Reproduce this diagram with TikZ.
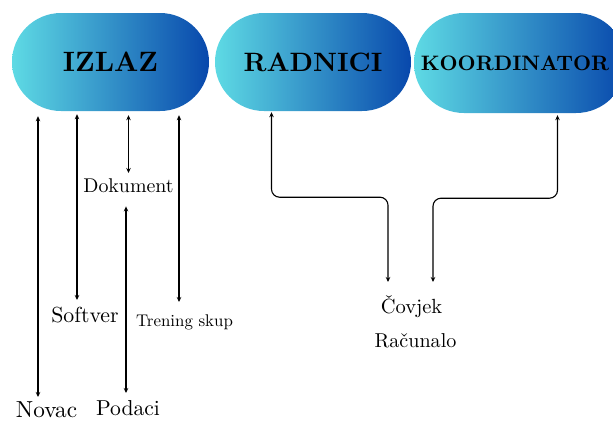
\documentclass[tikz,border=0pt]{standalone}
\usepackage{fontspec}
\setmainfont{lmroman10-regular.otf}[BoldFont=lmroman10-bold.otf]
\usetikzlibrary{shapes.misc}
\usetikzlibrary{arrows.meta}
\definecolor{boxleft}{RGB}{94,218,228}
\definecolor{boxright}{RGB}{8,72,172}
\tikzstyle{stadium}=[rounded rectangle, inner sep=0pt, minimum height=98pt, left color=boxleft, right color=boxright]
\tikzstyle{word}=[inner sep=0pt, anchor=base]
\tikzstyle{link}=[{Stealth[length=5pt,width=4.5pt]}-{Stealth[length=5pt,width=4.5pt]}, line width=1.1pt]
\tikzstyle{bent}=[link, rounded corners=8pt]

\begin{document}
\begin{tikzpicture}[x=1pt, y=-1pt]
        \useasboundingbox (0,0) rectangle (613,421);
        \node[stadium, minimum width=197pt, label={[font=\bfseries\fontsize{28}{28}\selectfont]center:IZLAZ}] (izlaz) at (110.5, 62) {};
        \node[stadium, minimum width=196pt, label={[font=\bfseries\fontsize{26.6}{26.6}\selectfont]center:RADNICI}] (radnici) at (313, 62) {};
        \node[stadium, minimum width=212pt, minimum height=100pt, label={[font=\bfseries\fontsize{20.9}{20.9}\selectfont, xshift=-5pt]center:KOORDINATOR}] (koord) at (520, 63) {};
        \node[word, font=\fontsize{19.9}{19.9}\selectfont] (dokument) at (128.5, 192) {Dokument};
        \node[word, font=\fontsize{21.8}{21.8}\selectfont] (softver) at (85, 322) {Softver};
        \node[word, font=\fontsize{16.9}{16.9}\selectfont] (trening) at (184.5, 326) {Trening skup};
        \node[word, font=\fontsize{23.2}{23.2}\selectfont] (novac) at (46.5, 417) {Novac};
        \node[word, font=\fontsize{21.6}{21.6}\selectfont] (podaci) at (128, 415) {Podaci};
        \node[word, font=\fontsize{20.5}{20.5}\selectfont] (covjek) at (411.5, 313) {Čovjek};
        \node[word, font=\fontsize{20.1}{20.1}\selectfont] (racunalo) at (415.5, 347) {Računalo};
        \coordinate (novacx) at (38, 397);
        \coordinate (softverx) at (77, 300);
        \coordinate (treningx) at (179, 302);
        \coordinate (podacix) at (126, 393);
        \coordinate (radnicix) at (271.5, 0);
        \coordinate (koordx) at (557.5, 0);
        \coordinate (covjekl) at (388, 282);
        \coordinate (covjekr) at (433, 282);
        \draw[link, shorten <=5pt] (novacx |- izlaz.south) -- (novacx);
        \draw[link, shorten <=3pt] (softverx |- izlaz.south) -- (softverx);
        \draw[link, shorten <=4pt] (treningx |- izlaz.south) -- (treningx);
        \draw[link, shorten <=4pt, shorten >=5pt] (dokument.north |- izlaz.south) -- (dokument.north);
        \draw[link, shorten <=14pt] (podacix |- dokument.south) -- (podacix);
        \draw[bent, shorten <=1pt] (radnicix |- radnici.south) -- ++(0, 86) -| (covjekl);
        \draw[bent, shorten <=2pt] (koordx |- koord.south) -- ++(0, 85) -| (covjekr);
    \end{tikzpicture}
\end{document}
